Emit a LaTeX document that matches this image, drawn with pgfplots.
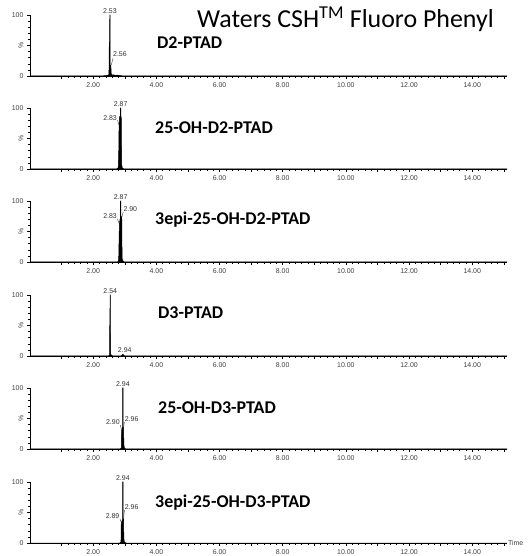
\documentclass[border=0pt]{standalone}
\usepackage{pgfplots}
\pgfplotsset{compat=1.18}
\usepackage{graphicx}
\usepackage{fontspec}
\setmainfont{Carlito}
\newfontfamily\arial{Liberation Sans}
\newcommand{\tl}{\arial\fontsize{7}{8}\selectfont}
\tikzset{pl/.style={font=\tl, text=black!80, inner sep=0.8pt},
ld/.style={black!80, line width=0.4pt}}
\pgfplotsset{chrom/.style={
  width=477bp, height=61bp, scale only axis,
  xmin=0, xmax=15.1, ymin=0, ymax=100,
  axis x line=bottom, axis y line=left,
  axis line style={-, line width=0.7pt},
  xtick={1,...,15},
  xticklabels={,2.00,,4.00,,6.00,,8.00,,10.00,,12.00,,14.00,},
  minor x tick num=4,
  ytick={0,50,100}, yticklabels={0,\rotatebox{90}{\%},100},
  minor y tick num=4,
  tick align=outside, major tick length=3bp, minor tick length=1.8bp,
  tick style={black, line width=0.5pt},
  ticklabel style={font=\tl, text=black!75},
  /pgf/number format/assume math mode=true,
  clip=false,
  anchor=south west,
},
pk/.style={fill=black, draw=black, line width=0.5pt}}
\begin{document}
\begin{tikzpicture}
\path[use as bounding box] (0bp,0bp) rectangle (529bp,556bp);
% Panel 1
\begin{axis}[chrom, at={(30bp,480bp)}]
\addplot[pk] coordinates {(0,0) (2.30,0) (2.38,0.8) (2.42,0.5) (2.46,1.2) (2.49,1.5) (2.50,6) (2.51,54) (2.515,56) (2.52,30) (2.525,100) (2.535,100) (2.54,8) (2.55,6) (2.56,18) (2.57,4) (2.60,1.5) (2.65,2) (2.70,1) (2.78,1.5) (2.85,0.5) (2.95,0.3) (3.05,0) (15.1,0)} \closedcycle;
\node[pl, anchor=south] at (axis cs:2.53,100) {2.53};
\node[pl, anchor=west] at (axis cs:2.60,36) {2.56};
\draw[ld] (axis cs:2.63,29) -- (axis cs:2.57,18);
\end{axis}
% Panel 2
\begin{axis}[chrom, at={(30bp,387bp)}]
\addplot[pk] coordinates {(0,0) (2.70,0) (2.76,0.5) (2.79,2) (2.80,8) (2.805,30) (2.81,28) (2.815,55) (2.82,70) (2.83,82) (2.84,86) (2.85,85) (2.86,87) (2.865,100) (2.875,100) (2.88,86) (2.89,84) (2.895,50) (2.90,8) (2.92,2) (2.95,0.5) (3.0,0) (15.1,0)} \closedcycle;
\node[pl, anchor=south] at (axis cs:2.87,100) {2.87};
\node[pl, anchor=east] at (axis cs:2.78,84) {2.83};
\draw[ld] (axis cs:2.77,80) -- (axis cs:2.82,72);
\end{axis}
% Panel 3
\begin{axis}[chrom, at={(30bp,294bp)}]
\addplot[pk] coordinates {(0,0) (2.76,0) (2.80,1) (2.81,10) (2.815,30) (2.82,28) (2.825,50) (2.83,62) (2.84,66) (2.85,70) (2.86,72) (2.865,100) (2.875,100) (2.88,72) (2.89,73) (2.90,74) (2.905,70) (2.91,30) (2.92,5) (2.95,1) (3.0,0) (15.1,0)} \closedcycle;
\node[pl, anchor=south] at (axis cs:2.87,100) {2.87};
\node[pl, anchor=east] at (axis cs:2.78,75) {2.83};
\draw[ld] (axis cs:2.77,71) -- (axis cs:2.82,63);
\node[pl, anchor=west] at (axis cs:2.93,87) {2.90};
\draw[ld] (axis cs:2.95,82) -- (axis cs:2.91,74);
\end{axis}
% Panel 4
\begin{axis}[chrom, at={(30bp,200bp)}]
\addplot[pk] coordinates {(0,0) (2.45,0) (2.50,0.5) (2.52,2) (2.525,55) (2.53,57) (2.535,100) (2.545,100) (2.55,5) (2.56,2) (2.60,0.5) (2.65,0) (2.88,0) (2.92,1.5) (2.94,3) (2.96,1.5) (3.0,0) (15.1,0)} \closedcycle;
\node[pl, anchor=south] at (axis cs:2.54,100) {2.54};
\node[pl, anchor=south] at (axis cs:3.0,4) {2.94};
\end{axis}
% Panel 5
\begin{axis}[chrom, at={(30bp,107bp)}]
\addplot[pk] coordinates {(0,0) (2.84,0) (2.87,0.5) (2.89,2) (2.895,20) (2.90,30) (2.91,32) (2.92,34) (2.93,36) (2.935,100) (2.945,100) (2.95,36) (2.96,35) (2.965,30) (2.97,8) (2.99,1) (3.05,0) (15.1,0)} \closedcycle;
\node[pl, anchor=south] at (axis cs:2.94,100) {2.94};
\node[pl, anchor=east] at (axis cs:2.87,44) {2.90};
\draw[ld] (axis cs:2.86,39) -- (axis cs:2.90,31);
\node[pl, anchor=west] at (axis cs:2.97,49) {2.96};
\draw[ld] (axis cs:2.99,44) -- (axis cs:2.96,36);
\end{axis}
% Panel 6
\begin{axis}[chrom, at={(30bp,13bp)}]
\addplot[pk] coordinates {(0,0) (2.83,0) (2.86,0.5) (2.88,2) (2.885,25) (2.89,33) (2.90,34) (2.91,36) (2.92,37) (2.93,38) (2.935,100) (2.945,100) (2.95,38) (2.96,39) (2.965,30) (2.97,8) (2.99,1) (3.05,0) (15.1,0)} \closedcycle;
\node[pl, anchor=south] at (axis cs:2.94,100) {2.94};
\node[pl, anchor=east] at (axis cs:2.86,44) {2.89};
\draw[ld] (axis cs:2.85,39) -- (axis cs:2.89,34);
\node[pl, anchor=west] at (axis cs:2.97,59) {2.96};
\draw[ld] (axis cs:2.99,54) -- (axis cs:2.96,39);
\node[pl, anchor=west, text=black!75] at (rel axis cs:1,0) {Time};
\end{axis}
% Title and compound names
\node[anchor=base west, inner sep=0, font=\fontsize{26}{30}\selectfont] at (197bp,528bp) {Waters CSH\textsuperscript{TM} Fluoro Phenyl};
\begin{scope}[every node/.style={anchor=base west, inner sep=0, font=\bfseries\fontsize{18}{21}\selectfont}]
\node at (157bp,507bp) {D2-PTAD};
\node at (155bp,422bp) {25-OH-D2-PTAD};
\node at (155bp,331bp) {3epi-25-OH-D2-PTAD};
\node at (158bp,237bp) {D3-PTAD};
\node at (158bp,142bp) {25-OH-D3-PTAD};
\node at (155bp,48bp) {3epi-25-OH-D3-PTAD};
\end{scope}
\end{tikzpicture}
\end{document}
